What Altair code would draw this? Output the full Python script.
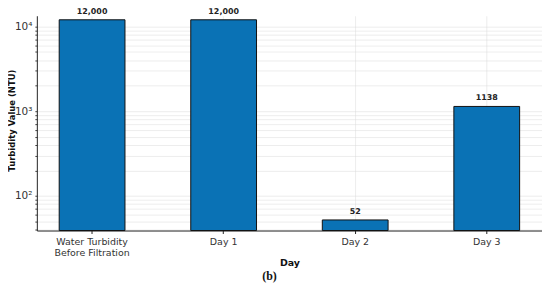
import altair as alt
import pandas as pd

categories = ["Water Turbidity\nBefore Filtration", "Day 1", "Day 2", "Day 3"]
values = [12000, 12000, 52, 1138]
labels = ["12,000", "12,000", "52", "1138"]
y_min = 39
y_max = 13400

minor_ticks = [40, 50, 60, 70, 80, 90,
               100, 200, 300, 400, 500, 600, 700, 800, 900,
               1000, 2000, 3000, 4000, 5000, 6000, 7000, 8000, 9000, 10000]

df = pd.DataFrame({
    "cat": categories,
    "value": values,
    "label": labels,
    "base": [y_min] * len(values),
})

FONT = "DejaVu Sans"

x_enc = alt.X(
    "cat:N",
    sort=categories,
    title="Day",
    scale=alt.Scale(paddingInner=0.5, paddingOuter=0.17),
    axis=alt.Axis(
        labelAngle=0,
        labelExpr="split(datum.label, '\\n')",
        labelFont=FONT, labelFontSize=9.5, labelColor="#333333",
        labelPadding=3, labelLineHeight=11,
        titleFont=FONT, titleFontSize=9.5, titleFontWeight="bold", titleColor="#111111",
        titlePadding=1,
        grid=True, gridColor="#d9d9d9", gridWidth=0.6, gridOpacity=0.8,
        domainColor="#222222", domainWidth=1,
        tickColor="#222222", tickSize=3,
    ),
)

y_scale = alt.Scale(type="log", domain=[y_min, y_max], nice=False)

y_axis = alt.Axis(
    values=minor_ticks,
    labelExpr="datum.value == 100 ? '10²' : datum.value == 1000 ? '10³' : datum.value == 10000 ? '10⁴' : ''",
    labelFont=FONT, labelFontSize=10.5, labelColor="#333333",
    labelPadding=3,
    title="Turbidity Value (NTU)",
    titleFont=FONT, titleFontSize=8.5, titleFontWeight="bold", titleColor="#111111",
    titleX=-25, titleY=105, titleBaseline="middle",
    grid=True, gridColor="#d9d9d9", gridWidth=0.6, gridOpacity=0.8,
    domainColor="#222222", domainWidth=1,
    tickColor="#444444", tickSize=2,
)

bars = alt.Chart(df).mark_bar(
    color="#0a72b5", stroke="#111111", strokeWidth=1
).encode(
    x=x_enc,
    y=alt.Y("value:Q", scale=y_scale, axis=y_axis),
    y2="base:Q",
)

text = alt.Chart(df).mark_text(
    dy=-4, font=FONT, fontSize=8, fontWeight="bold", color="#222222", baseline="bottom"
).encode(
    x=alt.X("cat:N", sort=categories),
    y=alt.Y("value:Q", scale=y_scale),
    text="label:N",
)

chart = alt.layer(bars, text).properties(
    width=508,
    height=216,
    padding={"left": 29, "top": 7, "right": 0, "bottom": 55},
    autosize=alt.AutoSizeParams(type="none"),
    title=alt.TitleParams(
        text="(b)", orient="bottom", font="Liberation Serif", fontSize=12,
        fontWeight="bold", color="#111111", offset=4, dx=-20,
    ),
).configure_view(stroke=None)

chart.save("out.html", embed_options={"renderer": "svg", "actions": False})
